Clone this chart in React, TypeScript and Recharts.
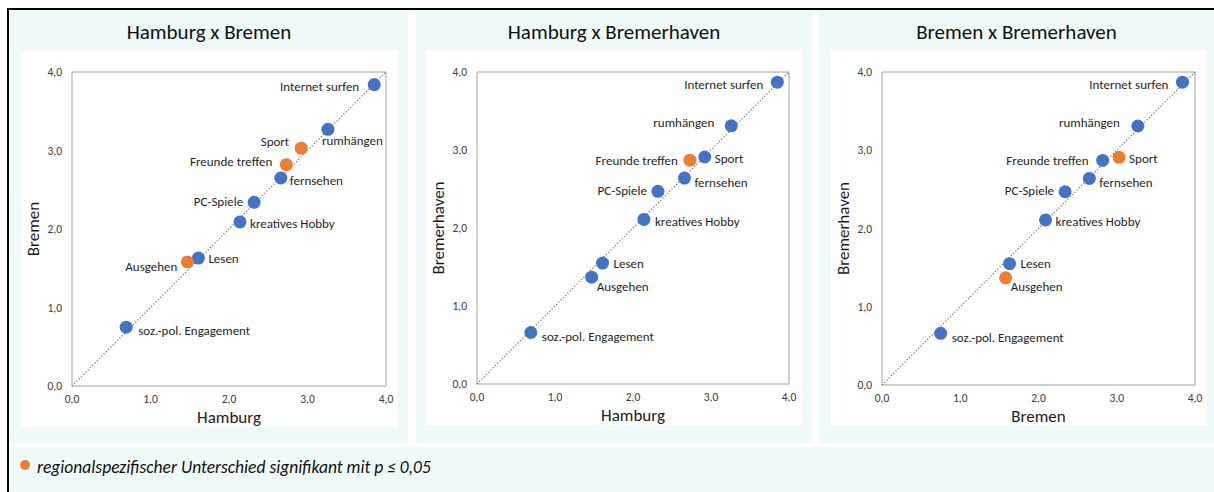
import React from 'react';
import { ScatterChart, Scatter, XAxis, YAxis, ReferenceLine, ReferenceArea } from 'recharts';

const activities = [
  'Internet surfen',
  'rumhängen',
  'Sport',
  'Freunde treffen',
  'fernsehen',
  'PC-Spiele',
  'kreatives Hobby',
  'Lesen',
  'Ausgehen',
  'soz.-pol. Engagement',
];
const hamburg = [3.85, 3.26, 2.92, 2.73, 2.66, 2.32, 2.14, 1.61, 1.47, 0.69];
const bremen = [3.84, 3.27, 3.03, 2.82, 2.65, 2.34, 2.09, 1.63, 1.58, 0.75];
const bremerhaven = [3.87, 3.31, 2.91, 2.87, 2.64, 2.47, 2.11, 1.55, 1.37, 0.66];

const sigHamburgBremen = ['Sport', 'Freunde treffen', 'Ausgehen'];
const sigHamburgBremerhaven = ['Freunde treffen'];
const sigBremenBremerhaven = ['Sport', 'Ausgehen'];

const axisTicks = [0, 1, 2, 3, 4];
const legendText = 'regionalspezifischer Unterschied signifikant mit p ≤ 0,05';

const BLUE = '#4472C4';
const ORANGE = '#ED7D31';
const PANEL_BG = '#EEF9F9';
const FONT = 'Carlito, Lato, sans-serif';

type Place = [string, number, number];

const place1: Record<string, Place> = {
  'Internet surfen': ['end', -15, 2],
  'rumhängen': ['start', -6, 11],
  'Sport': ['end', -12, -7],
  'Freunde treffen': ['end', -14, -3],
  'fernsehen': ['start', 9, 3],
  'PC-Spiele': ['end', -11, -1],
  'kreatives Hobby': ['start', 10, 2],
  'Lesen': ['start', 10, 0],
  'Ausgehen': ['end', -10, 5],
  'soz.-pol. Engagement': ['start', 12, 3],
};
const place2: Record<string, Place> = {
  'Internet surfen': ['end', -14, 2],
  'rumhängen': ['end', -17, -3],
  'Sport': ['start', 10, 1],
  'Freunde treffen': ['end', -12, 0],
  'fernsehen': ['start', 10, 4],
  'PC-Spiele': ['end', -11, -1],
  'kreatives Hobby': ['start', 11, 2],
  'Lesen': ['start', 11, 0],
  'Ausgehen': ['start', 5, 9],
  'soz.-pol. Engagement': ['start', 11, 4],
};
const place3: Record<string, Place> = {
  'Internet surfen': ['end', -14, 2],
  'rumhängen': ['end', -18, -3],
  'Sport': ['start', 10, 1],
  'Freunde treffen': ['end', -14, 0],
  'fernsehen': ['start', 10, 4],
  'PC-Spiele': ['end', -11, -1],
  'kreatives Hobby': ['start', 10, 2],
  'Lesen': ['start', 11, 0],
  'Ausgehen': ['start', 5, 9],
  'soz.-pol. Engagement': ['start', 11, 4],
};

const fmt = (v: number) => v.toFixed(1).replace('.', ',');

interface PanelCfg {
  title: string;
  left: number;
  width: number;
  chartX: number;
  chartW: number;
  chartH: number;
  plot: number;
  xVals: number[];
  yVals: number[];
  xLabel: string;
  yLabel: string;
  sig: string[];
  placement: Record<string, Place>;
}

const panels: PanelCfg[] = [
  { title: 'Hamburg x Bremen', left: 10, width: 398, chartX: 21, chartW: 377, chartH: 377, plot: 314, xVals: hamburg, yVals: bremen, xLabel: 'Hamburg', yLabel: 'Bremen', sig: sigHamburgBremen, placement: place1 },
  { title: 'Hamburg x Bremerhaven', left: 416, width: 396, chartX: 426, chartW: 376, chartH: 375, plot: 312, xVals: hamburg, yVals: bremerhaven, xLabel: 'Hamburg', yLabel: 'Bremerhaven', sig: sigHamburgBremerhaven, placement: place2 },
  { title: 'Bremen x Bremerhaven', left: 819, width: 395, chartX: 831, chartW: 376, chartH: 375, plot: 313, xVals: bremen, yVals: bremerhaven, xLabel: 'Bremen', yLabel: 'Bremerhaven', sig: sigBremenBremerhaven, placement: place3 },
];

function Panel({ cfg }: { cfg: PanelCfg }) {
  const data = activities.map((name, i) => ({
    name,
    x: cfg.xVals[i],
    y: cfg.yVals[i],
    sig: cfg.sig.includes(name),
  }));
  const top = 22;
  const yAxisW = 51;
  const right = cfg.chartW - yAxisW - cfg.plot;
  const xAxisH = cfg.chartH - top - cfg.plot;

  const shape = (props: any) => {
    const { cx, cy, payload } = props;
    const p = cfg.placement[payload.name];
    return (
      <g>
        <circle cx={cx} cy={cy} r={6.5} fill={payload.sig ? ORANGE : BLUE} />
        <text
          x={cx + p[1]}
          y={cy + p[2]}
          textAnchor={p[0] as any}
          dominantBaseline="central"
          fontSize={13}
          fontFamily={FONT}
          fill="#1f1f1f"
        >
          {payload.name}
        </text>
      </g>
    );
  };

  return (
    <>
      <div
        style={{
          position: 'absolute',
          left: cfg.left,
          top: 10,
          width: cfg.width,
          height: 433,
          background: PANEL_BG,
        }}
      >
        <div
          style={{
            position: 'absolute',
            left: 0,
            width: '100%',
            top: 11,
            textAlign: 'center',
            fontFamily: FONT,
            fontSize: 21,
            lineHeight: '22px',
            color: '#111',
          }}
        >
          {cfg.title}
        </div>
      </div>
      <div
        style={{
          position: 'absolute',
          left: cfg.chartX,
          top: 50,
          width: cfg.chartW,
          height: cfg.chartH,
          background: '#fff',
        }}
      >
        <ScatterChart
          width={cfg.chartW}
          height={cfg.chartH}
          margin={{ top, right, bottom: 0, left: 0 }}
        >
          <XAxis
            type="number"
            dataKey="x"
            domain={[0, 4]}
            ticks={axisTicks}
            tickFormatter={fmt}
            axisLine={false}
            tickLine={false}
            tickMargin={3}
            height={xAxisH}
            tick={{ fontSize: 11.5, fill: '#3a3a3a', fontFamily: FONT }}
            label={{
              content: (lp: any) => {
                const vb = lp.viewBox || {};
                return (
                  <text
                    x={vb.x + vb.width / 2}
                    y={vb.y + 31}
                    textAnchor="middle"
                    dominantBaseline="central"
                    fontSize={17}
                    fontFamily={FONT}
                    fill="#1a1a1a"
                  >
                    {cfg.xLabel}
                  </text>
                );
              },
            }}
          />
          <YAxis
            type="number"
            dataKey="y"
            domain={[0, 4]}
            ticks={axisTicks}
            tickFormatter={fmt}
            axisLine={false}
            tickLine={false}
            tickMargin={4}
            width={yAxisW}
            tick={{ fontSize: 11.5, fill: '#3a3a3a', fontFamily: FONT }}
            label={{
              content: (lp: any) => {
                const vb = lp.viewBox || {};
                const x = vb.x + 12;
                const y = vb.y + vb.height / 2;
                return (
                  <text
                    x={x}
                    y={y}
                    transform={`rotate(-90, ${x}, ${y})`}
                    textAnchor="middle"
                    dominantBaseline="central"
                    fontSize={17}
                    fontFamily={FONT}
                    fill="#1a1a1a"
                  >
                    {cfg.yLabel}
                  </text>
                );
              },
            }}
          />
          <ReferenceArea x1={0} x2={4} y1={0} y2={4} fill="none" fillOpacity={0} stroke="#A0A0A0" strokeWidth={1} />
          <ReferenceLine
            segment={[{ x: 0, y: 0 }, { x: 4, y: 4 }]}
            stroke="#6f6f6f"
            strokeWidth={1.2}
            strokeDasharray="1.2 2"
          />
          <Scatter data={data} isAnimationActive={false} shape={shape} />
        </ScatterChart>
      </div>
    </>
  );
}

export default function App() {
  return (
    <div
      style={{
        position: 'fixed',
        left: 0,
        top: 0,
        width: 1214,
        height: 492,
        background: '#fff',
        overflow: 'hidden',
        fontFamily: FONT,
      }}
    >
      <div
        style={{
          position: 'absolute',
          left: 7,
          top: 8,
          width: 1210,
          height: 490,
          borderTop: '2px solid #000',
          borderLeft: '2px solid #000',
        }}
      />
      {panels.map((p) => (
        <Panel key={p.title} cfg={p} />
      ))}
      <div
        style={{
          position: 'absolute',
          left: 10,
          top: 447,
          width: 1204,
          height: 45,
          background: PANEL_BG,
        }}
      >
        <svg width={20} height={45} style={{ position: 'absolute', left: 0, top: 0 }}>
          <circle cx={15} cy={18} r={5} fill={ORANGE} />
        </svg>
        <div
          style={{
            position: 'absolute',
            left: 27,
            top: 9,
            fontStyle: 'italic',
            fontSize: 17.5,
            lineHeight: '22px',
            color: '#111',
            whiteSpace: 'nowrap',
          }}
        >
          {legendText}
        </div>
      </div>
    </div>
  );
}
